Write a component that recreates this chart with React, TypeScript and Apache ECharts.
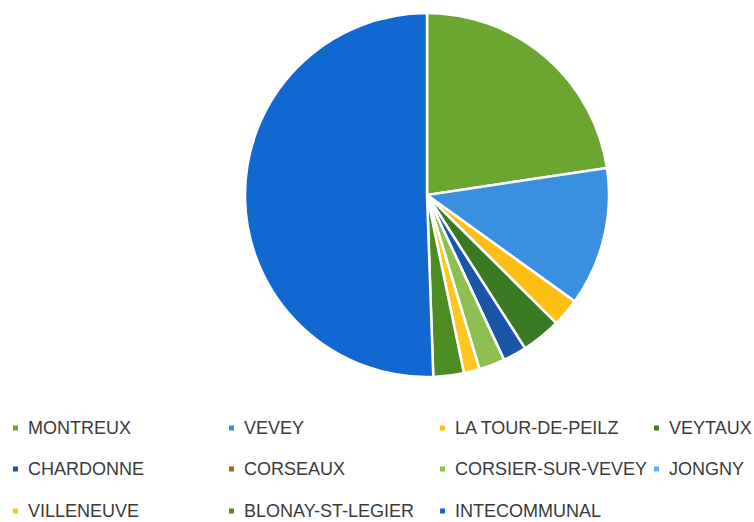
import React, { useEffect, useRef } from "react";
import * as echarts from "echarts";

const categories = [
  "MONTREUX",
  "VEVEY",
  "LA TOUR-DE-PEILZ",
  "VEYTAUX",
  "CHARDONNE",
  "CORSEAUX",
  "CORSIER-SUR-VEVEY",
  "JONGNY",
  "VILLENEUVE",
  "BLONAY-ST-LEGIER",
  "INTECOMMUNAL",
];

const shares = [22.6, 12.3, 2.5, 3.5, 2.1, 0, 2.3, 0, 1.4, 2.7, 50.5];

const colors = [
  "#6BA631",
  "#3B8FE0",
  "#FFBE14",
  "#3A7A22",
  "#1A56A8",
  "#9C6A10",
  "#8DC050",
  "#6AAEF2",
  "#FFC520",
  "#4C8C22",
  "#1068D0",
];

// legend placement: [left of marker, vertical center]
const legendPos: [number, number][] = [
  [11, 429],
  [227, 429],
  [438, 429],
  [652, 429],
  [11, 470],
  [227, 470],
  [438, 470],
  [652, 470],
  [11, 512],
  [227, 512],
  [438, 512],
];

export default function App() {
  const ref = useRef<HTMLDivElement>(null);
  useEffect(() => {
    if (!ref.current) return;
    const chart = echarts.init(ref.current, null, { renderer: "svg" });
    const legends = categories.map((name, i) => ({
      data: [name],
      left: legendPos[i][0],
      top: legendPos[i][1] - 10,
      padding: 0,
      itemWidth: 7,
      itemHeight: 7,
      icon: "rect",
      selectedMode: false,
      textStyle: {
        fontFamily: "Liberation Sans, Arial, sans-serif",
        fontSize: 18,
        color: "#3a3a3a",
        padding: [0, 0, 0, 4],
      },
    }));
    chart.setOption({
      animation: false,
      backgroundColor: "#ffffff",
      color: colors,
      legend: legends,
      series: [
        {
          type: "pie",
          center: [427, 195],
          radius: 182,
          startAngle: 90,
          clockwise: true,
          label: { show: false },
          labelLine: { show: false },
          emphasis: { disabled: true },
          itemStyle: { borderColor: "#ffffff", borderWidth: 2.5 },
          data: categories.map((name, i) => ({ name, value: shares[i] })),
        },
      ],
    });
    return () => chart.dispose();
  }, []);
  return <div ref={ref} style={{ width: 754, height: 522, position: "absolute", left: 0, top: 0 }} />;
}
